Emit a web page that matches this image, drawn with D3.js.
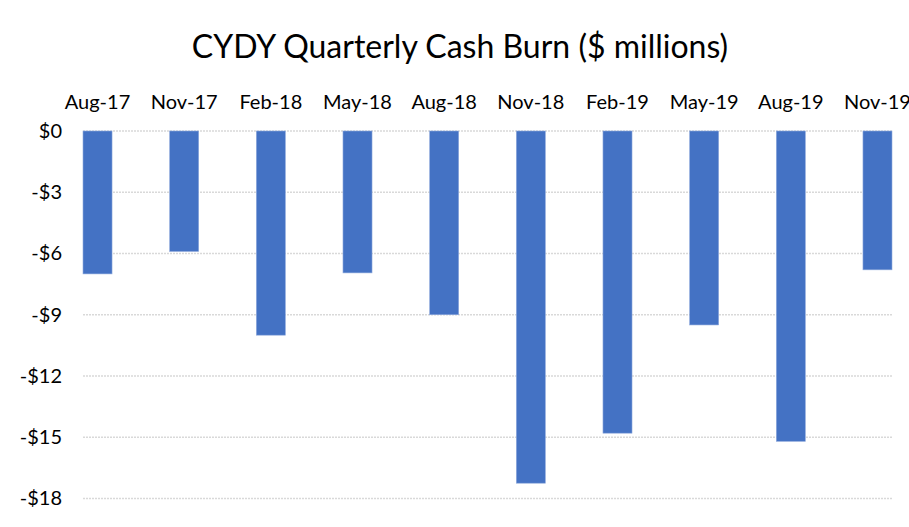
<!DOCTYPE html>
<meta charset="utf-8">
<style>

body {
  margin: 0;
  background: #fff;
  font-family: Lato, "Open Sans", sans-serif;
}

.grid line {
  stroke: #d9d9d9;
  stroke-width: 1.3px;
  stroke-dasharray: 2 1;
}

</style>
<body>
<script src="https://d3js.org/d3.v7.js"></script>
<script>

var quarters = ["Aug-17", "Nov-17", "Feb-18", "May-18", "Aug-18", "Nov-18", "Feb-19", "May-19", "Aug-19", "Nov-19"];

var cashBurn = [-7.0, -5.9, -10.0, -6.95, -9.0, -17.25, -14.8, -9.5, -15.2, -6.8];

var yTicks = [0, -3, -6, -9, -12, -15, -18];

var width = 909;

var height = 527;

var margin = {top: 131, right: 17, bottom: 28, left: 83};

var innerWidth = width - margin.left - margin.right;

var innerHeight = height - margin.top - margin.bottom;

var xScale = d3.scaleBand()
    .domain(quarters)
    .range([0, innerWidth])
    .paddingInner(0.665)
    .paddingOuter(0);

var yScale = d3.scaleLinear()
    .domain([0, -18])
    .range([0, innerHeight - 0.5]);

var svg = d3.select("body").append("svg")
    .attr("width", width)
    .attr("height", height);

svg.append("text")
    .attr("x", 460)
    .attr("y", 58)
    .attr("text-anchor", "middle")
    .style("font-size", "32px")
    .attr("fill", "#000")
    .text("CYDY Quarterly Cash Burn ($ millions)");

var g = svg.append("g")
    .attr("transform", `translate(${margin.left}, ${margin.top})`);

// gridlines
g.append("g")
    .attr("class", "grid")
  .selectAll("line")
  .data(yTicks)
  .enter()
  .append("line")
    .attr("x1", 0)
    .attr("x2", innerWidth)
    .attr("y1", d => yScale(d))
    .attr("y2", d => yScale(d));

// y axis labels
var yAxis = d3.axisLeft(yScale)
    .tickValues(yTicks)
    .tickSize(0)
    .tickPadding(21)
    .tickFormat(d => (d < 0 ? "-$" : "$") + Math.abs(d));

g.append("g")
    .call(yAxis)
    .call(s => s.select(".domain").remove())
    .selectAll("text")
      .style("font-size", "20px")
      .style("font-family", "Lato, sans-serif")
      .attr("fill", "#000");

// category labels on top
var xAxis = d3.axisTop(xScale)
    .tickSize(0)
    .tickPadding(22);

g.append("g")
    .call(xAxis)
    .call(s => s.select(".domain").remove())
    .selectAll("text")
      .style("font-size", "20px")
      .style("font-family", "Lato, sans-serif")
      .attr("fill", "#000");

g.selectAll("rect.bar")
  .data(cashBurn)
  .enter()
  .append("rect")
    .attr("class", "bar")
    .attr("x", (d, i) => xScale(quarters[i]))
    .attr("y", 0)
    .attr("width", xScale.bandwidth())
    .attr("height", d => yScale(d))
    .attr("fill", "#4472c4")
    .attr("stroke", "#8faadc")
    .attr("stroke-width", 0.6);

</script>
